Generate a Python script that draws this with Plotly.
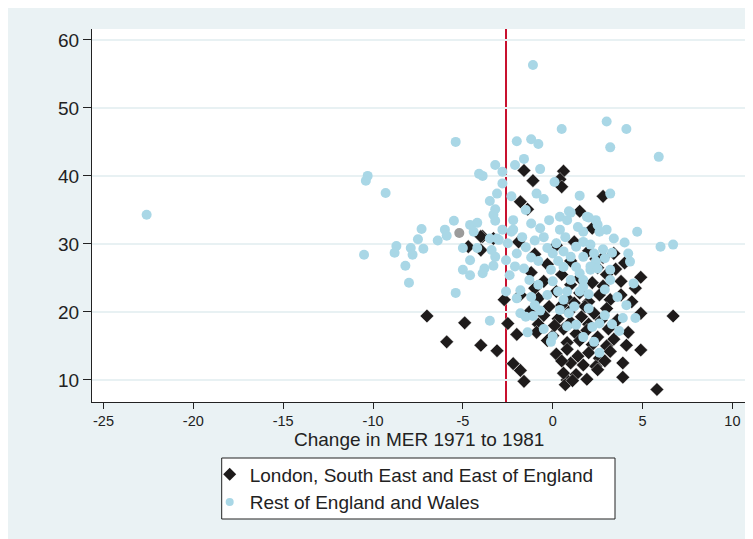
import plotly.graph_objects as go

# ---------------- data ----------------
london_pts = [
    (-1.6, 40.8), (0.6, 40.7), (-1.1, 39.3), (0.4, 39.5), (0.5, 38.4), (2.8, 37.0), (-1.8, 36.2), (-1.4, 35.1),
    (1.5, 34.8), (2.2, 32.3), (-3.9, 31.1), (-3.3, 30.8), (-4.0, 31.1), (-1.9, 30.3), (1.2, 30.3), (3.4, 28.6),
    (-4.7, 29.6), (-4.0, 29.1), (4.9, 25.1), (4.6, 23.5),
    (-7.0, 19.4), (-4.9, 18.4), (-5.9, 15.6), (-4.0, 15.1), (-3.1, 14.3), (-2.5, 18.3), (-2.0, 16.7), (-2.7, 21.8),
    (-2.2, 12.4), (-1.8, 11.4), (-1.6, 9.8),
    (6.7, 19.4), (5.8, 8.6), (4.9, 14.4), (4.9, 19.8), (4.4, 21.5), (4.1, 15.1), (4.2, 17.0), (3.6, 18.8),
    (3.9, 12.5), (3.9, 10.4), (1.9, 10.1), (0.8, 10.0), (0.7, 9.3),
    (-1.0, 28.5), (0.2, 29.8), (2.0, 29.0), (2.8, 28.0), (1.0, 27.5), (2.5, 26.5), (4.0, 27.2), (-0.3, 27.0),
    (0.5, 25.5), (1.5, 25.0), (2.2, 24.3), (3.0, 25.5), (3.8, 24.5), (-0.5, 24.5), (1.0, 24.0), (2.8, 23.8), (-1.2, 25.8),
    (-1.8, 22.5), (-0.8, 22.0), (0.2, 23.0), (0.8, 22.0), (1.5, 22.8), (2.0, 21.5), (2.6, 22.5), (3.2, 21.8),
    (3.8, 22.5), (0.5, 21.0), (1.2, 21.3), (-0.2, 20.8),
    (-1.3, 20.0), (-0.5, 19.5), (0.3, 19.0), (0.9, 20.0), (1.6, 19.3), (2.3, 19.8), (3.0, 20.5), (1.0, 18.5),
    (2.0, 18.2), (2.7, 18.8), (-0.8, 18.2),
    (-0.9, 17.0), (0.0, 16.5), (0.6, 17.5), (1.3, 16.8), (1.9, 17.3), (2.5, 16.3), (3.1, 17.5), (0.8, 15.5),
    (1.5, 15.8), (2.2, 15.2), (3.0, 15.0), (-0.3, 15.8),
    (0.2, 13.8), (0.8, 14.5), (1.4, 13.5), (2.0, 14.0), (2.6, 13.2), (3.2, 14.2), (1.0, 12.5), (1.7, 12.2),
    (2.4, 12.0), (0.5, 12.8),
    (0.6, 11.0), (1.3, 10.8), (2.5, 11.5), (1.1, 9.9), (2.9, 12.8), (3.4, 16.0), (1.8, 20.8), (0.1, 18.0),
    (-1.0, 23.5), (2.4, 27.8), (3.5, 26.3),
]

rest_pts = [
    (-22.6, 34.3), (-10.3, 40.0), (-10.4, 39.3), (-9.3, 37.5), (-10.5, 28.4), (-8.7, 29.7), (-8.8, 28.7),
    (-8.2, 26.8), (-8.0, 24.3), (-7.9, 29.4), (-7.8, 28.4), (-7.5, 30.7), (-7.3, 32.2), (-7.2, 29.3),
    (-6.4, 30.5), (-6.0, 32.1), (-5.9, 31.2), (-5.5, 33.4), (-5.4, 45.0), (-5.4, 22.8), (-5.0, 26.2),
    (-4.6, 27.6), (-5.0, 29.4), (-4.2, 29.4), (-4.6, 32.8), (-4.2, 33.1), (-4.4, 31.8), (-3.1, 30.8), (-2.8, 32.1),
    (-3.2, 41.6), (-2.8, 40.6), (-4.1, 40.3), (-3.9, 40.0), (-2.8, 38.9), (-3.1, 37.4), (-3.5, 36.3),
    (-3.2, 35.1), (-3.3, 34.3), (-3.2, 33.4), (-2.2, 33.5), (-2.3, 37.0), (-1.5, 35.0),
    (-2.0, 45.1), (-1.2, 45.4), (-0.8, 44.7), (-1.1, 56.3), (0.5, 46.9), (3.0, 48.0), (4.1, 46.9), (3.2, 44.2), (5.9, 42.8),
    (-2.1, 41.6), (-1.6, 42.5), (-0.7, 41.0), (0.1, 39.1), (-0.9, 37.4), (-0.5, 36.6), (1.5, 37.1), (3.2, 37.4),
    (0.4, 34.0), (0.8, 33.5), (1.0, 34.6), (2.0, 33.9), (2.5, 32.8), (3.0, 32.1), (4.7, 31.8), (6.0, 29.6), (6.7, 29.9),
    (-0.7, 32.3), (-1.2, 33.0), (0.4, 32.1), (-2.2, 32.1),
    (-4.6, 25.4), (-3.9, 25.7), (-3.3, 26.8), (-3.5, 18.7), (-1.8, 19.8), (-1.5, 19.3), (-1.1, 19.4), (-0.5, 17.5),
    (0.0, 16.4), (-0.1, 15.6), (0.9, 19.8), (0.8, 17.9), (1.3, 18.1), (2.3, 15.6), (2.6, 14.0), (2.2, 17.8),
    (2.6, 18.3), (3.9, 19.1), (4.6, 19.1), (3.7, 17.2), (3.6, 22.2), (-2.6, 23.0), (-2.0, 22.0), (-1.2, 22.2),
    (0.3, 23.0), (0.8, 23.0), (1.5, 23.0), (0.6, 21.8),
    (0.9, 34.8), (1.9, 34.0), (2.4, 33.5), (-2.3, 31.8), (-3.5, 30.8), (-3.0, 30.6), (-2.5, 30.1), (-2.0, 28.6),
    (-3.4, 29.1), (-3.2, 28.1), (-2.6, 27.6), (-3.8, 26.4), (-2.4, 25.4),
    (-0.3, 29.4), (0.0, 28.6), (0.2, 30.1), (0.6, 28.9), (1.0, 28.1), (1.3, 29.6), (1.7, 30.3), (2.1, 29.9),
    (1.7, 28.1), (2.3, 28.6), (1.3, 26.6), (0.6, 26.6), (-0.1, 26.2), (0.0, 24.5), (1.0, 24.7), (1.5, 25.7),
    (2.1, 26.2), (2.4, 27.4), (-1.6, 26.4), (-1.3, 24.7), (-0.8, 24.0), (-1.8, 23.2),
    (2.6, 31.8), (3.4, 30.8), (4.0, 30.2), (4.2, 28.6), (4.3, 27.4), (3.3, 28.7), (2.8, 29.2), (1.7, 31.8),
    (2.1, 26.7), (2.5, 26.4), (3.2, 26.2), (2.9, 27.9), (3.2, 24.7), (4.5, 24.2), (1.7, 24.7), (1.7, 23.7),
    (-0.5, 31.0), (-1.0, 30.5), (-1.5, 29.5), (-0.8, 27.5), (0.3, 27.5), (-1.2, 28.0), (0.7, 31.0), (1.4, 32.5),
    (-0.2, 33.5), (-1.7, 31.0), (-2.1, 26.7), (-1.0, 21.0), (-0.3, 22.5), (1.2, 20.8), (2.0, 20.5), (2.9, 19.5),
    (3.3, 18.2), (1.7, 16.3), (-1.4, 17.0), (-0.7, 20.2), (0.4, 20.3), (2.0, 22.6), (2.9, 23.3), (4.1, 21.0),
]

london_x = [p[0] for p in london_pts]
london_y = [p[1] for p in london_pts]
rest_x = [p[0] for p in rest_pts]
rest_y = [p[1] for p in rest_pts]

other_x = [-5.2]
other_y = [31.6]

mean_change = -2.6

x_ticks = [-25, -20, -15, -10, -5, 0, 5, 10]
x_ticktext = ["-25", "-20", "-15", "-10", "-5", "0", "5", "10"]
y_ticks = [10, 20, 30, 40, 50, 60]
y_ticktext = ["10", "20", "30", "40", "50", "60"]

series_names = ["London, South East and East of England", "Rest of England and Wales"]
x_title = "Change in MER 1971 to 1981"

# ---------------- styling ----------------
FONT = "Liberation Sans, Arial, sans-serif"
TXT = "#222222"
BLACK = "#1e1b1b"
BLUE = "#a9d7e6"
BG = "#eaf2f4"
GRID = "#e8f1f3"

# page body adds an 8px offset; figure coordinates below are relative to it
W, H = 745, 531
L, R, T, B = 84, 8, 21, 137
pw, ph = W - L - R, H - T - B

fig = go.Figure()
fig.add_trace(go.Scatter(
    x=london_x, y=london_y, mode="markers", name=series_names[0], showlegend=False,
    marker=dict(symbol="diamond", size=10.5, color=BLACK, line=dict(width=0.6, color="rgba(255,255,255,0.7)")),
))
fig.add_trace(go.Scatter(
    x=rest_x, y=rest_y, mode="markers", name=series_names[1], showlegend=False,
    marker=dict(symbol="circle", size=10, color=BLUE),
))
fig.add_trace(go.Scatter(
    x=other_x, y=other_y, mode="markers", showlegend=False,
    marker=dict(symbol="circle", size=10, color="#9b9b9b"),
))
# legend entries (no data of their own)
fig.add_trace(go.Scatter(
    x=[None], y=[None], mode="markers", name=series_names[0],
    marker=dict(symbol="diamond", size=10, color=BLACK),
))
fig.add_trace(go.Scatter(
    x=[None], y=[None], mode="markers", name=series_names[1],
    marker=dict(symbol="circle", size=8, color=BLUE),
))

# white plot region
fig.add_shape(type="rect", xref="paper", yref="paper", x0=0, x1=1, y0=0, y1=1,
              fillcolor="white", line=dict(width=0), layer="below")
# legend box
fig.add_shape(type="rect", xref="paper", yref="paper",
              x0=(213.7 - L) / pw, x1=(607 - L) / pw,
              y0=-(511 - (T + ph)) / ph, y1=-(450 - (T + ph)) / ph,
              fillcolor="white", line=dict(width=1, color=TXT), layer="below")

fig.add_shape(type="line", xref="x", yref="paper", x0=mean_change, x1=mean_change, y0=0, y1=1,
              line=dict(color="#c8102e", width=2), layer="between")

# x-axis title
fig.add_annotation(text=x_title, xref="paper", yref="paper", x=0.5, y=-(431 - (T + ph)) / ph,
                   xanchor="center", yanchor="middle", showarrow=False,
                   font=dict(size=19, family=FONT, color=TXT))

fig.update_layout(
    width=W, height=H,
    margin=dict(l=L, r=R, t=T, b=B),
    paper_bgcolor=BG, plot_bgcolor="white",
    font=dict(family=FONT, color=TXT),
    showlegend=True,
    legend=dict(
        x=(201.7 - L) / pw, y=-(447.5 - (T + ph)) / ph, xanchor="left", yanchor="top",
        bgcolor="rgba(0,0,0,0)", borderwidth=0,
        font=dict(size=19, family=FONT, color=TXT),
        tracegroupgap=0, itemsizing="trace",
    ),
    xaxis=dict(
        range=[-25.64, 10.7], tickmode="array", tickvals=x_ticks, ticktext=x_ticktext,
        showgrid=False, zeroline=False, showline=True, linecolor=TXT, linewidth=1,
        ticks="outside", ticklen=6, tickcolor=TXT, ticklabelstandoff=0,
        tickfont=dict(size=14.5, family=FONT, color=TXT),
    ),
    yaxis=dict(
        range=[6.76, 61.6], tickmode="array", tickvals=y_ticks, ticktext=y_ticktext,
        showgrid=True, gridcolor=GRID, gridwidth=2, zeroline=False,
        showline=True, linecolor=TXT, linewidth=1,
        ticks="outside", ticklen=8, tickcolor=TXT,
        tickfont=dict(size=19, family=FONT, color=TXT),
    ),
)

fig.write_html("out.html")
